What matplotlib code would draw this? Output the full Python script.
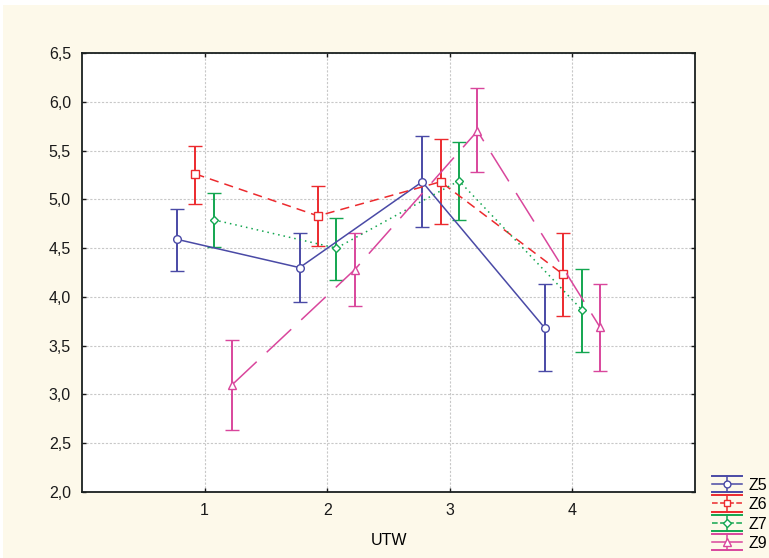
import matplotlib.pyplot as plt
from matplotlib.patches import Rectangle
from matplotlib.lines import Line2D
from matplotlib.legend_handler import HandlerBase

plt.rcParams['font.family'] = ['Liberation Sans', 'DejaVu Sans']

# UTW levels and group means with lower/upper error limits
utw = [1, 2, 3, 4]
groups = ['Z5', 'Z6', 'Z7', 'Z9']

z5_mean = [4.59, 4.30, 5.18, 3.68]
z5_low = [4.27, 3.95, 4.72, 3.24]
z5_high = [4.90, 4.66, 5.65, 4.13]

z6_mean = [5.26, 4.83, 5.18, 4.23]
z6_low = [4.95, 4.52, 4.75, 3.80]
z6_high = [5.55, 5.14, 5.62, 4.66]

z7_mean = [4.79, 4.50, 5.19, 3.87]
z7_low = [4.51, 4.17, 4.79, 3.44]
z7_high = [5.07, 4.81, 5.59, 4.29]

z9_mean = [3.10, 4.28, 5.70, 3.69]
z9_low = [2.64, 3.91, 5.28, 3.24]
z9_high = [3.56, 4.66, 6.14, 4.13]

yticks = [2.0, 2.5, 3.0, 3.5, 4.0, 4.5, 5.0, 5.5, 6.0, 6.5]
ytick_labels = ['2,0', '2,5', '3,0', '3,5', '4,0', '4,5', '5,0', '5,5', '6,0', '6,5']

# mean, low, high, x offset, colour, plot linestyle, legend linestyle, marker, size
series = [
    (z5_mean, z5_low, z5_high, -0.225, '#4a4aa6', '-', '-', 'o', 5.5),
    (z6_mean, z6_low, z6_high, -0.075, '#ec2a2e', (0, (6, 4)), (0, (3, 3)), 's', 5.5),
    (z7_mean, z7_low, z7_high, 0.075, '#13a650', (0, (1, 2.6)), (0, (1, 2.2)), 'D', 4),
    (z9_mean, z9_low, z9_high, 0.225, '#d9469c', (0, (22, 9)), '-', '^', 6),
]


class HandlerBoxErr(HandlerBase):
    # legend key: line + marker, vertical bar, full-width caps
    def create_artists(self, legend, orig, xdescent, ydescent, width, height, fontsize, trans):
        c = orig.get_color()
        x0, x1 = -xdescent, -xdescent + width
        xm = (x0 + x1) / 2
        ym = -ydescent + height / 2
        half = 5.8
        arts = [
            Line2D([x0, x1], [ym, ym], color=c, lw=1.1, ls=orig.get_linestyle()),
            Line2D([xm, xm], [ym - half, ym + half], color=c, lw=1.1),
            Line2D([x0, x1], [ym + half, ym + half], color=c, lw=1.4),
            Line2D([x0, x1], [ym - half, ym - half], color=c, lw=1.4),
            Line2D([xm], [ym], color=c, marker=orig.get_marker(), markersize=orig.get_markersize(),
                   markerfacecolor='white', markeredgecolor=c, markeredgewidth=1.0, ls='none'),
        ]
        for a in arts:
            a.set_transform(trans)
        return arts


fig = plt.figure(figsize=(7.69, 5.58), dpi=100, facecolor='white')
fig.patches.append(Rectangle((3 / 769, 0), 1, 1 - 5 / 558, transform=fig.transFigure,
                             facecolor='#fdf9ea', edgecolor='none', zorder=-10))
ax = fig.add_axes([82 / 769, 66 / 558, 613 / 769, 439 / 558])
ax.set_facecolor('white')

handles = []
for mean, low, high, off, color, ls, leg_ls, mk, ms in series:
    xs = [u + off for u in utw]
    err = [[m - lo for m, lo in zip(mean, low)], [hi - m for m, hi in zip(mean, high)]]
    ax.errorbar(xs, mean, yerr=err, color=color, linestyle=ls, linewidth=1.1,
                marker=mk, markersize=ms, markerfacecolor='white',
                markeredgecolor=color, markeredgewidth=1.0,
                ecolor=color, elinewidth=1.4, capsize=5, capthick=1.4)
    handles.append(Line2D([], [], color=color, linestyle=leg_ls, marker=mk,
                          markersize=ms * 0.9))

ax.set_xlim(0, 5)
ax.set_ylim(2.0, 6.5)
ax.set_xticks(utw)
ax.set_xticklabels([str(u) for u in utw])
ax.set_yticks(yticks)
ax.set_yticklabels(ytick_labels)
ax.grid(True, color='#c8c8c8', linestyle=(0, (2, 1.5)), linewidth=0.8)
ax.set_axisbelow(True)
ax.tick_params(direction='in', length=3, width=1, top=True, right=True,
               labelsize=11.5, colors='#1a1a1a', pad=8)
for s in ax.spines.values():
    s.set_color('#1a2020')
    s.set_linewidth(1.3)

ax.set_xlabel('UTW', fontsize=11.5, labelpad=11)

fig.legend(handles=handles, labels=groups, loc='lower left',
           handler_map={Line2D: HandlerBoxErr()},
           bbox_to_anchor=(712 / 769, 7 / 558), frameon=False, fontsize=11.5,
           handlelength=1.9, handletextpad=0.4, labelspacing=0.28, borderpad=0,
           borderaxespad=0)

fig.savefig('out.png', dpi=100, facecolor=fig.get_facecolor())
